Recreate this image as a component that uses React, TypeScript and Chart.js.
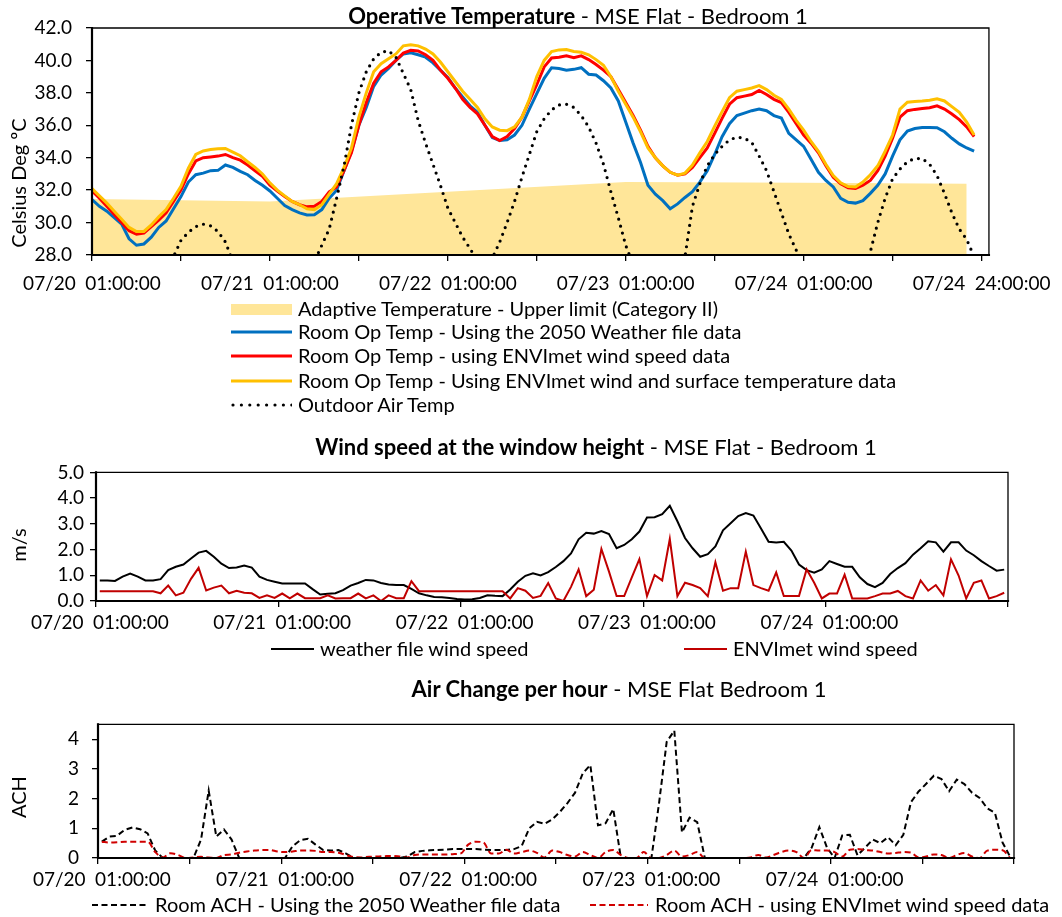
import React, { useEffect, useRef } from "react";
import { Chart, registerables } from "chart.js";

Chart.register(...registerables);

const FONT = "Lato, 'Open Sans', sans-serif";
const TICK_FONT = { family: FONT, size: 19 };

// ---------------- categories (hourly, 07/20 01:00 .. 07/24 24:00) ----------------
const DAYS = ["07/20", "07/21", "07/22", "07/23", "07/24"];
const HOUR_LABELS: string[] = DAYS.flatMap((d) =>
  Array.from({ length: 24 }, (_, h) => `${d}\u2002${String(h + 1).padStart(2, "0")}:00:00`)
);
const HOUR_INDEX: number[] = HOUR_LABELS.map((_, i) => i);
const TEMP_TICK_VALUES = [0, 12, 24, 36, 48, 60, 72, 84, 96, 108, 120];

// ---------------- Operative temperature (°C) ----------------
const ADAPTIVE_HOURS = [0, 24, 48, 72, 96, 118];
const ADAPTIVE_UPPER = [31.45, 31.3, 31.9, 32.5, 32.45, 32.4];

const OP_TEMP_2050 = [
  31.42, 31.0, 30.7, 30.3, 29.9, 29.0, 28.6, 28.68, 29.1, 29.7,
  30.1, 30.85, 31.6, 32.5, 32.95, 33.05, 33.2, 33.22, 33.55, 33.4,
  33.16, 32.95, 32.6, 32.3, 31.95, 31.5, 31.05, 30.8, 30.6, 30.47,
  30.48, 30.8, 31.5, 32.0, 33.2, 34.4, 36.0, 37.1, 38.4, 39.1,
  39.5, 40.0, 40.4, 40.47, 40.35, 40.2, 39.85, 39.4, 38.95, 38.3,
  37.75, 37.2, 36.8, 36.0, 35.25, 35.06, 35.1, 35.4, 36.0, 37.0,
  37.95, 38.9, 39.55, 39.5, 39.4, 39.45, 39.55, 39.15, 39.1, 38.75,
  38.3, 37.5, 36.2, 34.9, 33.7, 32.3, 31.75, 31.35, 30.85, 31.15,
  31.55, 31.9, 32.5, 33.2, 34.2, 35.3, 36.1, 36.6, 36.75, 36.9,
  37.0, 36.9, 36.6, 36.45, 35.5, 35.1, 34.7, 33.9, 33.1, 32.6,
  32.2, 31.5, 31.25, 31.2, 31.35, 31.8, 32.3, 33.0, 34.1, 35.1,
  35.65, 35.8, 35.86, 35.86, 35.85, 35.6, 35.2, 34.85, 34.6, 34.4,
];

const OP_TEMP_ENVI_WIND = [
  31.95, 31.5, 31.0, 30.5, 30.0, 29.5, 29.28, 29.35, 29.75, 30.15,
  30.6, 31.3, 32.0, 33.0, 33.8, 34.0, 34.05, 34.1, 34.2, 34.0,
  33.85, 33.55, 33.2, 32.85, 32.3, 31.95, 31.6, 31.3, 31.1, 30.97,
  31.0, 31.3, 31.9, 32.2, 33.2, 34.3, 36.0, 37.4, 38.6, 39.3,
  39.6, 40.0, 40.45, 40.62, 40.58, 40.35, 40.0, 39.4, 38.9, 38.3,
  37.6, 37.1, 36.7, 36.0, 35.3, 35.06, 35.3, 35.8, 36.5, 37.5,
  38.5, 39.6, 40.15, 40.2, 40.28, 40.17, 40.28, 40.05, 39.75, 39.4,
  39.0, 38.2, 37.4, 36.6, 35.7, 34.7, 34.0, 33.5, 33.1, 32.92,
  33.0, 33.4, 34.0, 34.6, 35.5, 36.43, 37.3, 37.7, 37.8, 37.9,
  38.15, 37.9, 37.6, 37.4, 36.8, 36.1, 35.4, 34.9, 34.3, 33.5,
  32.8, 32.4, 32.15, 32.1, 32.3, 32.6, 33.2, 34.1, 35.2, 36.5,
  36.9, 36.98, 37.03, 37.08, 37.2, 37.0, 36.7, 36.35, 35.9, 35.3,
];

const OP_TEMP_ENVI_WIND_SURF = [
  32.1, 31.65, 31.2, 30.7, 30.2, 29.7, 29.45, 29.45, 29.85, 30.35,
  30.8, 31.5, 32.24, 33.35, 34.2, 34.42, 34.5, 34.55, 34.57, 34.35,
  34.12, 33.75, 33.4, 33.0, 32.45, 32.0, 31.65, 31.3, 31.1, 30.85,
  30.8, 31.1, 31.75, 32.4, 33.4, 34.6, 36.5, 38.0, 39.3, 39.8,
  40.1, 40.4, 40.9, 40.97, 40.9, 40.7, 40.4, 39.9, 39.3, 38.7,
  38.1, 37.6, 37.1, 36.4, 35.9, 35.7, 35.67, 35.9, 36.5, 37.6,
  39.0, 40.0, 40.55, 40.65, 40.67, 40.55, 40.5, 40.35, 40.05, 39.7,
  39.0, 38.1, 37.3, 36.5, 35.6, 34.6, 34.0, 33.5, 33.1, 32.92,
  33.05, 33.55, 34.3, 35.0, 35.95, 36.84, 37.7, 38.1, 38.2, 38.3,
  38.45, 38.2, 37.85, 37.6, 37.0, 36.3, 35.7, 35.0, 34.4, 33.6,
  32.9, 32.45, 32.22, 32.2, 32.5, 32.95, 33.5, 34.4, 35.4, 37.0,
  37.42, 37.47, 37.5, 37.55, 37.63, 37.5, 37.15, 36.8, 36.2, 35.4,
];

const OUTDOOR_AIR = [
  25.6, 25.2, 24.8, 24.5, 24.3, 24.2, 24.6, 25.3, 26.0, 26.8,
  27.4, 27.9, 28.9, 29.4, 29.75, 29.9, 29.8, 29.45, 28.8, 27.6,
  27.0, 26.6, 26.2, 25.9, 25.6, 25.3, 25.0, 24.8, 25.2, 26.2,
  27.6, 28.6, 29.6, 31.5, 33.5, 36.0, 38.0, 39.3, 40.1, 40.5,
  40.6, 40.2, 39.2, 38.2, 36.3, 34.9, 33.6, 32.3, 30.9, 30.0,
  29.1, 28.4, 27.6, 27.3, 27.8, 28.8, 30.0, 31.3, 32.8, 34.2,
  35.6, 36.4, 36.95, 37.25, 37.3, 37.1, 36.6, 35.9, 34.9, 33.6,
  31.9, 30.3, 28.6, 27.4, 26.6, 26.0, 25.6, 25.4, 25.6, 26.6,
  27.9, 31.0, 32.4, 33.5, 34.2, 34.7, 35.1, 35.27, 35.2, 34.95,
  34.1, 33.2, 31.9, 30.6, 29.3, 28.3, 27.4, 26.6, 26.0, 25.6,
  25.4, 25.3, 25.5, 26.0, 26.8, 28.2, 30.0, 31.5, 32.7, 33.3,
  33.75, 33.95, 33.95, 33.6, 32.9, 31.8, 30.6, 29.6, 28.96, 27.9,
];

// ---------------- Wind speed at window height (m/s) ----------------
const WIND_WEATHER = [
  0.8, 0.8, 0.78, 0.95, 1.07, 0.95, 0.8, 0.8, 0.85, 1.2,
  1.33, 1.42, 1.65, 1.88, 1.95, 1.72, 1.45, 1.28, 1.3, 1.38,
  1.3, 0.95, 0.82, 0.75, 0.68, 0.68, 0.68, 0.68, 0.46, 0.25,
  0.28, 0.3, 0.42, 0.6, 0.7, 0.82, 0.8, 0.7, 0.64, 0.62,
  0.62, 0.47, 0.3, 0.22, 0.16, 0.15, 0.12, 0.08, 0.06, 0.07,
  0.12, 0.22, 0.2, 0.19, 0.45, 0.75, 0.98, 1.08, 0.99, 1.12,
  1.32, 1.55, 1.85, 2.4, 2.65, 2.62, 2.72, 2.6, 2.05, 2.18,
  2.4, 2.7, 3.25, 3.26, 3.38, 3.7, 3.1, 2.45, 2.05, 1.72,
  1.82, 2.12, 2.75, 3.02, 3.3, 3.42, 3.32, 2.82, 2.3, 2.27,
  2.3, 1.96, 1.42, 1.2, 1.1, 1.23, 1.55, 1.44, 1.33, 1.33,
  0.92, 0.66, 0.54, 0.7, 1.05, 1.28, 1.47, 1.8, 2.05, 2.32,
  2.28, 1.92, 2.28, 2.28, 1.96, 1.78, 1.55, 1.36, 1.18, 1.22,
];

const WIND_ENVIMET = [
  0.38, 0.38, 0.38, 0.38, 0.38, 0.38, 0.38, 0.38, 0.3, 0.6,
  0.22, 0.32, 0.86, 1.29, 0.41, 0.52, 0.6, 0.3, 0.4, 0.32,
  0.3, 0.12, 0.22, 0.12, 0.29, 0.1, 0.29, 0.11, 0.11, 0.11,
  0.22, 0.1, 0.11, 0.11, 0.29, 0.1, 0.22, 0.0, 0.22, 0.11,
  0.11, 0.77, 0.38, 0.38, 0.38, 0.38, 0.38, 0.38, 0.38, 0.38,
  0.38, 0.38, 0.38, 0.38, 0.1, 0.5, 0.4, 0.12, 0.2, 0.7,
  0.1, 0.0, 0.55, 1.23, 0.19, 0.44, 2.02, 1.14, 0.19, 0.19,
  0.92, 1.63, 0.19, 1.01, 0.8, 2.41, 0.19, 0.71, 0.62, 0.5,
  0.19, 1.51, 0.4, 0.5, 0.5, 1.92, 0.62, 0.5, 0.4, 1.11,
  0.19, 0.19, 0.19, 1.23, 0.71, 0.1, 0.29, 0.29, 1.02, 0.1,
  0.1, 0.1, 0.19, 0.29, 0.29, 0.39, 0.19, 0.1, 0.8, 0.4,
  0.62, 0.22, 1.62, 0.99, 0.1, 0.71, 0.8, 0.1, 0.19, 0.32,
];

// ---------------- Air change per hour ----------------
const ACH_WEATHER = [
  0.55, 0.72, 0.75, 0.95, 1.03, 0.97, 0.83, 0.25, 0, 0,
  0, 0, 0, 0.62, 2.27, 0.72, 0.96, 0.62, 0, 0,
  0, 0, 0, 0, 0, 0.4, 0.6, 0.65, 0.45, 0.27,
  0.25, 0.27, 0.15, 0, 0, 0, 0, 0, 0, 0,
  0.05, 0.2, 0.24, 0.26, 0.27, 0.28, 0.3, 0.3, 0.3, 0.3,
  0.28, 0.27, 0.27, 0.27, 0.3, 0.4, 1.0, 1.22, 1.15, 1.3,
  1.55, 1.85, 2.2, 2.85, 3.13, 1.1, 1.17, 1.65, 0, 0,
  0, 0, 0, 1.85, 3.91, 4.29, 0.86, 1.36, 1.21, 0,
  0, 0, 0, 0, 0, 0, 0, 0, 0, 0,
  0, 0, 0, 0.35, 1.04, 0.35, 0, 0.76, 0.78, 0.09,
  0.35, 0.62, 0.5, 0.7, 0.43, 0.78, 1.88, 2.24, 2.5, 2.77,
  2.66, 2.25, 2.64, 2.49, 2.2, 2.02, 1.67, 1.52, 0.52, 0.04,
];

const ACH_ENVIMET = [
  0.55, 0.52, 0.53, 0.55, 0.55, 0.55, 0.55, 0.2, 0.02, 0.16,
  0.1, 0.0, 0.02, 0.04, 0.02, 0.0, 0.1, 0.12, 0.18, 0.22,
  0.25, 0.27, 0.27, 0.22, 0.2, 0.22, 0.25, 0.25, 0.24, 0.2,
  0.2, 0.18, 0.1, 0.03, 0.02, 0.04, 0.05, 0.06, 0.07, 0.05,
  0.02, 0.1, 0.12, 0.12, 0.12, 0.12, 0.13, 0.15, 0.45, 0.55,
  0.52, 0.15, 0.15, 0.28, 0.15, 0.2, 0.25, 0.17, 0.02, 0.25,
  0.2, 0.1, 0.05, 0.2, 0.1, 0.0, 0.2, 0.27, 0.1, 0.0,
  0.0, 0.2, 0.0, 0.0, 0.1, 0.25, 0.05, 0.1, 0.2, 0.0,
  0.0, 0.0, 0.0, 0.0, 0.0, 0.02, 0.1, 0.02, 0.1, 0.2,
  0.25, 0.2, 0.0, 0.27, 0.25, 0.25, 0.2, 0.05, 0.28, 0.3,
  0.27, 0.25, 0.2, 0.15, 0.17, 0.2, 0.18, 0.02, 0.05, 0.12,
  0.1, 0.0, 0.1, 0.17, 0.05, 0.0, 0.25, 0.28, 0.26, 0.0,
];

const WIND_TICK_VALUES = [0, 1, 2, 3, 4, 5];
const ACH_TICK_VALUES = [0, 1, 2, 3, 4];
const TEMP_Y_TICKS = [28, 30, 32, 34, 36, 38, 40, 42];

// ---------------- helpers ----------------
const framePlugin = {
  id: "frame",
  afterDatasetsDraw(chart: any) {
    const { ctx, chartArea: a } = chart;
    ctx.save();
    ctx.strokeStyle = "#000";
    ctx.lineCap = "square";
    ctx.lineWidth = 1.3;
    ctx.beginPath();
    ctx.moveTo(a.left, a.top);
    ctx.lineTo(a.right, a.top);
    ctx.lineTo(a.right, a.bottom);
    ctx.stroke();
    ctx.lineWidth = 2.2;
    ctx.beginPath();
    ctx.moveTo(a.left, a.top);
    ctx.lineTo(a.left, a.bottom);
    ctx.lineTo(a.right, a.bottom);
    ctx.stroke();
    ctx.restore();
  },
};

const baseOptions = (padTop: number, padRight: number) => ({
  animation: false,
  responsive: false,
  devicePixelRatio: 1,
  layout: { padding: { top: padTop, right: padRight, left: 0, bottom: 0 } },
  plugins: { legend: { display: false }, tooltip: { enabled: false }, title: { display: false } },
  elements: { point: { radius: 0 }, line: { tension: 0 } },
});

const yAxis = (width: number, min: number, max: number, padding: number, fmt: (v: number) => string, tickValues: number[]) => ({
  min,
  max,
  afterFit: (s: any) => {
    s.width = width;
  },
  afterBuildTicks: (s: any) => {
    s.ticks = tickValues.map((v) => ({ value: v }));
  },
  ticks: { autoSkip: false, padding, color: "#000", font: TICK_FONT, callback: (v: any) => fmt(Number(v)) },
  grid: { drawOnChartArea: false, drawTicks: true, tickLength: 6, color: "#000", lineWidth: 1.3 },
  border: { display: false },
});

const categoryX = (height: number, every: number, padding: number) => ({
  type: "category",
  offset: true,
  afterFit: (s: any) => {
    s.height = height;
  },
  grid: {
    offset: true,
    drawOnChartArea: false,
    drawTicks: true,
    tickLength: 6,
    lineWidth: 1.3,
    color: "#000",
    tickColor: (ctx: any) =>
      ctx.index === undefined || ctx.index % every === 0 ? "#000" : "rgba(0,0,0,0)",
  },
  border: { display: false },
  ticks: {
    autoSkip: false,
    maxRotation: 0,
    minRotation: 0,
    padding,
    color: "#000",
    font: TICK_FONT,
    callback: (_v: any, i: number) => (i % 24 === 0 ? HOUR_LABELS[i] : ""),
  },
});

// ---------------- chart configs ----------------
const tempConfig = () => ({
  type: "line",
  data: {
    labels: HOUR_INDEX,
    datasets: [
      {
        label: "Outdoor Air Temp",
        data: OUTDOOR_AIR.map((y, i) => ({ x: HOUR_INDEX[i], y })),
        borderColor: "#000",
        borderWidth: 3.2,
        borderDash: [0, 7.2],
        borderCapStyle: "round",
        fill: false,
        order: 0,
      },
      {
        label: "Room Op Temp - Using ENVImet wind and surface temperature data",
        data: OP_TEMP_ENVI_WIND_SURF.map((y, i) => ({ x: HOUR_INDEX[i], y })),
        borderColor: "#FFC000",
        borderWidth: 3,
        fill: false,
        order: 1,
      },
      {
        label: "Room Op Temp - using ENVImet wind speed data",
        data: OP_TEMP_ENVI_WIND.map((y, i) => ({ x: HOUR_INDEX[i], y })),
        borderColor: "#FF0000",
        borderWidth: 3,
        fill: false,
        order: 2,
      },
      {
        label: "Room Op Temp - Using the 2050 Weather file data",
        data: OP_TEMP_2050.map((y, i) => ({ x: HOUR_INDEX[i], y })),
        borderColor: "#0070C0",
        borderWidth: 3,
        fill: false,
        order: 3,
      },
      {
        label: "Adaptive Temperature - Upper limit (Category II)",
        data: ADAPTIVE_HOURS.map((x, i) => ({ x, y: ADAPTIVE_UPPER[i] })),
        borderColor: "rgba(0,0,0,0)",
        borderWidth: 1,
        backgroundColor: "#FFE699",
        fill: "start",
        order: 4,
      },
    ],
  },
  options: {
    ...baseOptions(28, 70),
    scales: {
      x: {
        type: "linear",
        min: 0,
        max: 121,
        afterFit: (s: any) => {
          s.height = 45;
        },
        afterBuildTicks: (s: any) => {
          s.ticks = TEMP_TICK_VALUES.map((v) => ({ value: v }));
        },
        grid: { drawOnChartArea: false, drawTicks: true, tickLength: 6, color: "#000", lineWidth: 1.3 },
        border: { display: false },
        ticks: {
          autoSkip: false,
          maxRotation: 0,
          minRotation: 0,
          padding: 11,
          color: "#000",
          font: TICK_FONT,
          callback: (v: any) => {
            const n = Number(v);
            if (n === 120) return HOUR_LABELS[119];
            return n % 24 === 0 ? HOUR_LABELS[n] : "";
          },
        },
      },
      y: yAxis(92, 28, 42, 14, (v) => v.toFixed(1), TEMP_Y_TICKS),
    },
  },
  plugins: [framePlugin],
});

const windConfig = () => ({
  type: "line",
  data: {
    labels: HOUR_LABELS,
    datasets: [
      {
        label: "ENVImet wind speed",
        data: WIND_ENVIMET,
        borderColor: "#C00000",
        borderWidth: 2,
        fill: false,
        order: 0,
      },
      {
        label: "weather file wind speed",
        data: WIND_WEATHER,
        borderColor: "#000",
        borderWidth: 2,
        fill: false,
        order: 1,
      },
    ],
  },
  options: {
    ...baseOptions(10, 54),
    scales: {
      x: categoryX(44, 24, 4),
      y: yAxis(96, 0, 5, 6, (v) => v.toFixed(1), WIND_TICK_VALUES),
    },
  },
  plugins: [framePlugin],
});

const achConfig = () => ({
  type: "line",
  data: {
    labels: HOUR_LABELS,
    datasets: [
      {
        label: "Room ACH - using ENVImet wind speed data",
        data: ACH_ENVIMET,
        borderColor: "#D00000",
        borderWidth: 2,
        borderDash: [6, 3.5],
        cubicInterpolationMode: "monotone",
        fill: false,
        order: 0,
      },
      {
        label: "Room ACH - Using the 2050 Weather file data",
        data: ACH_WEATHER,
        borderColor: "#000",
        borderWidth: 2,
        borderDash: [6, 3.5],
        fill: false,
        order: 1,
      },
    ],
  },
  options: {
    ...baseOptions(10, 48),
    scales: {
      x: categoryX(42, 12, 4),
      y: yAxis(98, 0, 4.5, 13, (v) => String(v), ACH_TICK_VALUES),
    },
  },
  plugins: [framePlugin],
});

// ---------------- components ----------------
function ChartCanvas({ top, height, make }: { top: number; height: number; make: () => any }) {
  const ref = useRef<HTMLCanvasElement | null>(null);
  useEffect(() => {
    const chart = new Chart(ref.current as HTMLCanvasElement, make());
    return () => chart.destroy();
  }, []);
  return (
    <canvas
      ref={ref}
      width={1062}
      height={height}
      style={{ position: "absolute", left: 0, top, width: 1062, height, display: "block" }}
    />
  );
}

const TITLE_SIZE = 22;
const TEXT_SIZE = 20;

function Title({ cx, cy, bold, rest }: { cx: number; cy: number; bold: string; rest: string }) {
  return (
    <div
      style={{
        position: "absolute",
        left: cx - 400,
        width: 800,
        top: cy - TITLE_SIZE * 0.63,
        textAlign: "center",
        fontSize: TITLE_SIZE,
        lineHeight: 1.2,
        whiteSpace: "nowrap",
      }}
    >
      <b>{bold}</b>
      {rest}
    </div>
  );
}

function AxisTitle({ cx, cy, text }: { cx: number; cy: number; text: string }) {
  return (
    <div
      style={{
        position: "absolute",
        left: cx,
        top: cy,
        transform: "translate(-50%, -50%) rotate(-90deg)",
        fontSize: TEXT_SIZE,
        lineHeight: 1.2,
        whiteSpace: "nowrap",
      }}
    >
      {text}
    </div>
  );
}

function LineSwatch({ w, color, width, dash, cap }: { w: number; color: string; width: number; dash?: string; cap?: string }) {
  return (
    <svg width={w} height={12} style={{ display: "block" }}>
      <line
        x1={cap === "round" ? 2 : 0}
        y1={6}
        x2={w}
        y2={6}
        stroke={color}
        strokeWidth={width}
        strokeDasharray={dash}
        strokeLinecap={cap === "round" ? "round" : "butt"}
      />
    </svg>
  );
}

function LegendItem({ x, cy, textX, swatch, text }: { x: number; cy: number; textX: number; swatch: any; text: string }) {
  return (
    <>
      <div style={{ position: "absolute", left: x, top: cy - 6, height: 12, display: "flex", alignItems: "center" }}>{swatch}</div>
      <div
        style={{
          position: "absolute",
          left: textX,
          top: cy - TEXT_SIZE * 0.63,
          fontSize: TEXT_SIZE,
          lineHeight: 1.2,
          whiteSpace: "nowrap",
        }}
      >
        {text}
      </div>
    </>
  );
}

export default function App() {
  return (
    <div
      style={{
        position: "absolute",
        left: 0,
        top: 0,
        width: 1062,
        height: 917,
        background: "#fff",
        fontFamily: FONT,
        color: "#000",
        overflow: "hidden",
      }}
    >
      <ChartCanvas top={0} height={300} make={tempConfig} />
      <ChartCanvas top={455} height={190} make={windConfig} />
      <ChartCanvas top={700} height={200} make={achConfig} />

      <Title cx={578} cy={16.5} bold="Operative Temperature" rest=" - MSE Flat - Bedroom 1" />
      <Title cx={596} cy={447.5} bold="Wind speed at the window height" rest=" - MSE Flat - Bedroom 1" />
      <Title cx={619} cy={689.5} bold="Air Change per hour" rest=" - MSE Flat Bedroom 1" />

      <AxisTitle cx={18} cy={183} text="Celsius Deg ºC" />
      <AxisTitle cx={18} cy={545} text="m/s" />
      <AxisTitle cx={18} cy={797} text="ACH" />

      <LegendItem
        x={231}
        cy={309}
        textX={298}
        swatch={<div style={{ width: 61, height: 11, background: "#FFE699" }} />}
        text="Adaptive Temperature - Upper limit (Category II)"
      />
      <LegendItem x={231} cy={332} textX={298} swatch={<LineSwatch w={61} color="#0070C0" width={3} />} text="Room Op Temp - Using the 2050 Weather file data" />
      <LegendItem x={231} cy={356} textX={298} swatch={<LineSwatch w={61} color="#FF0000" width={3} />} text="Room Op Temp - using ENVImet wind speed data" />
      <LegendItem x={231} cy={381} textX={298} swatch={<LineSwatch w={61} color="#FFC000" width={3} />} text="Room Op Temp - Using ENVImet wind and surface temperature data" />
      <LegendItem
        x={231}
        cy={405}
        textX={298}
        swatch={<LineSwatch w={61} color="#000" width={3.2} dash="0 8.4" cap="round" />}
        text="Outdoor Air Temp"
      />

      <LegendItem x={271} cy={649} textX={320} swatch={<LineSwatch w={43} color="#000" width={2} />} text="weather file wind speed" />
      <LegendItem x={684} cy={649} textX={733} swatch={<LineSwatch w={43} color="#C00000" width={2} />} text="ENVImet wind speed" />

      <LegendItem x={92} cy={905} textX={155} swatch={<LineSwatch w={57} color="#000" width={2} dash="6 3.5" />} text="Room ACH - Using the 2050 Weather file data" />
      <LegendItem x={590} cy={905} textX={655} swatch={<LineSwatch w={58} color="#D00000" width={2} dash="6 3.5" />} text="Room ACH - using ENVImet wind speed data" />
    </div>
  );
}
